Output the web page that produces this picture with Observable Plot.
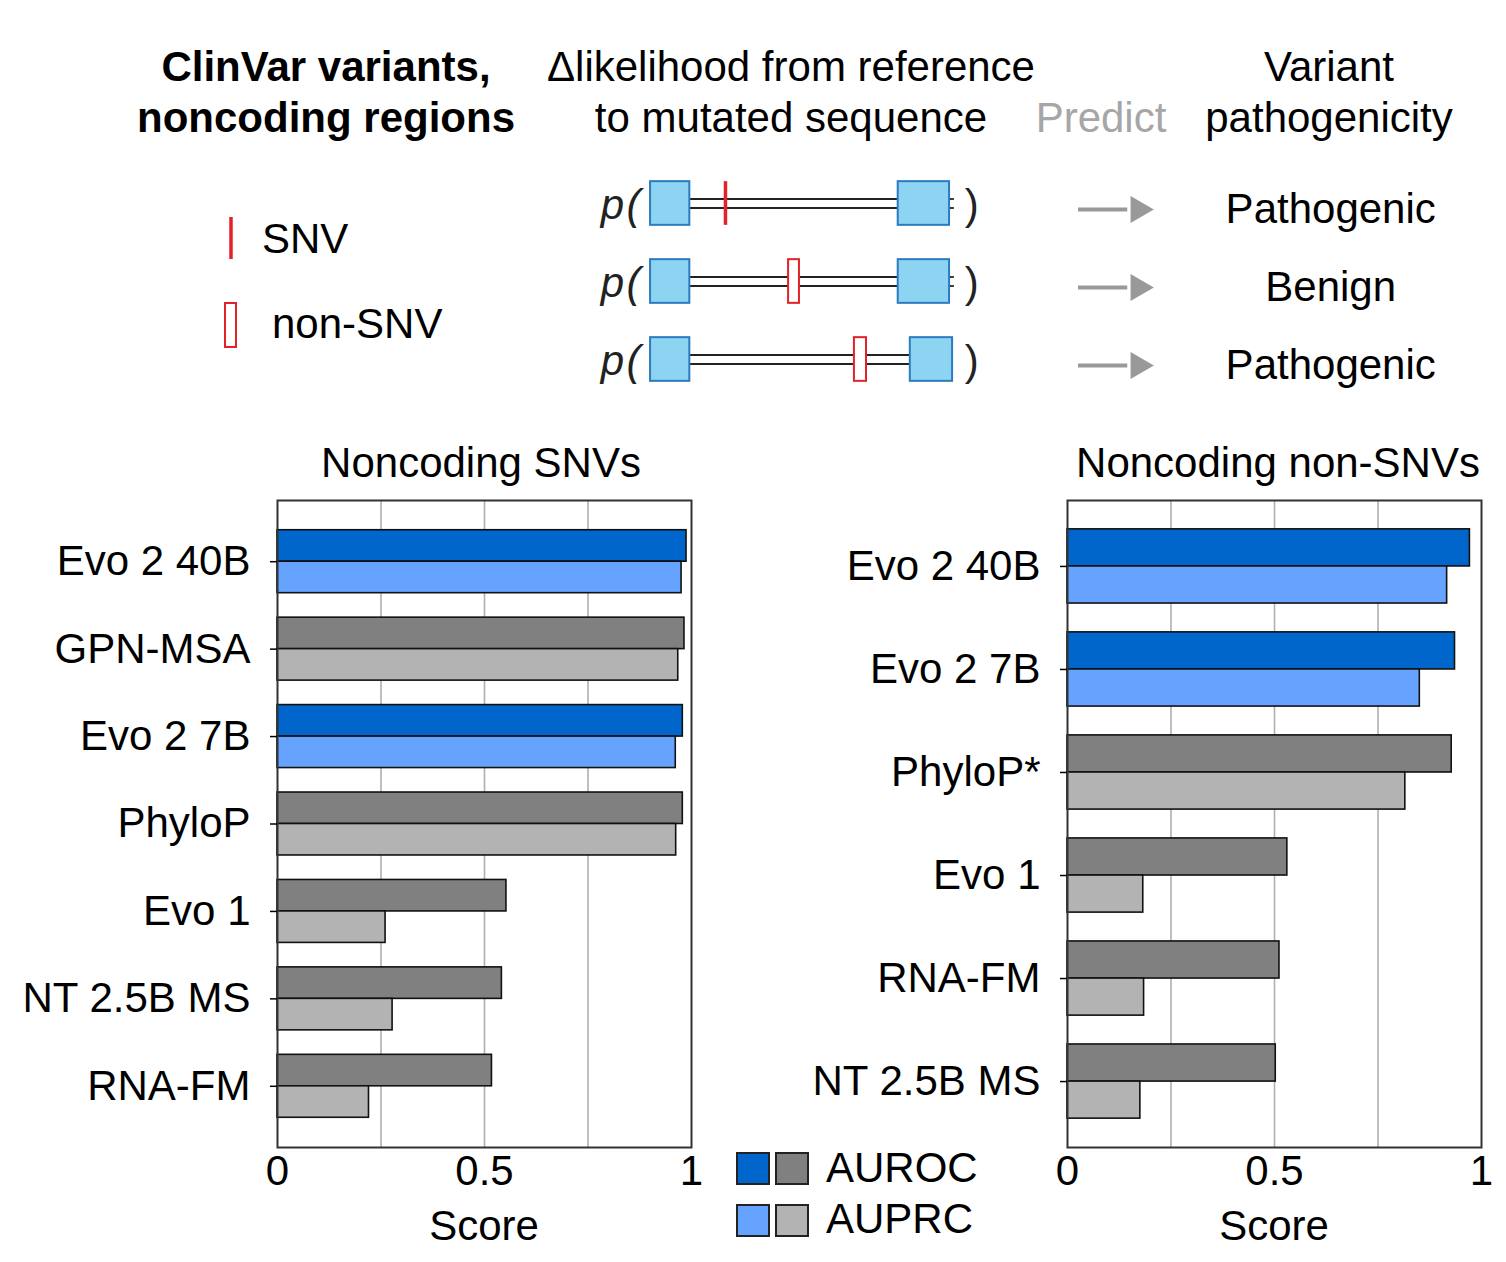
<!DOCTYPE html>
<html>
<head>
<meta charset="utf-8">
<script src="https://cdn.jsdelivr.net/npm/d3@7"></script>
<script src="https://cdn.jsdelivr.net/npm/@observablehq/plot@0.6"></script>
<style>
  html, body { margin: 0; padding: 0; background: #fff; }
  #root { position: relative; width: 1506px; height: 1262px; overflow: hidden;
          font-family: "Liberation Sans", Arial, sans-serif; color: #000; }
  .t { position: absolute; font-size: 42px; line-height: 51px; white-space: nowrap; }
  .sq { position: absolute; width: 30px; height: 29px; border: 2px solid #222; }
</style>
</head>
<body>
<div id="root"></div>
<script>
// ---------------- data ----------------
const models1 = ["Evo 2 40B", "GPN-MSA", "Evo 2 7B", "PhyloP", "Evo 1", "NT 2.5B MS", "RNA-FM"];
const auroc1  = [0.988, 0.983, 0.979, 0.979, 0.553, 0.542, 0.518];
const auprc1  = [0.976, 0.968, 0.962, 0.963, 0.261, 0.278, 0.221];

const models2 = ["Evo 2 40B", "Evo 2 7B", "PhyloP*", "Evo 1", "RNA-FM", "NT 2.5B MS"];
const auroc2  = [0.972, 0.936, 0.928, 0.531, 0.512, 0.503];
const auprc2  = [0.917, 0.851, 0.816, 0.183, 0.185, 0.176];

const evo2Models = ["Evo 2 40B", "Evo 2 7B"];
const metrics = ["AUROC", "AUPRC"];
const xTicks = [0, 0.5, 1];
const gridTicks = [0.25, 0.5, 0.75];

// schematic (sequence units)
const diagramRows = [0, 1, 2];
const outcomes = ["Pathogenic", "Benign", "Pathogenic"];
const leftExonStart = [0, 0, 0];
const leftExonEnd = [13, 13, 13];
const rightExonStart = [82, 82, 86];
const rightExonEnd = [99, 99, 100];
const variantKind = ["SNV", "non-SNV", "non-SNV"];
const variantStart = [24.8, 45.7, 67.5];
const variantEnd = [24.8, 49.3, 71.5];

// ---------------- helpers ----------------
const root = document.getElementById("root");
const FONT = "'Liberation Sans', Arial, sans-serif";

function text(str, cx, cy, opts = {}) {
  const d = document.createElement("div");
  d.className = "t";
  d.innerHTML = str;
  d.style.top = (cy - 25.5) + "px";
  d.style.left = cx + "px";
  if (opts.anchor !== "start") { d.style.transform = "translateX(-50%)"; d.style.textAlign = "center"; }
  if (opts.bold) d.style.fontWeight = "bold";
  if (opts.color) d.style.color = opts.color;
  root.appendChild(d);
  return d;
}
function place(node, left, top) {
  node.style.position = "absolute";
  node.style.left = left + "px";
  node.style.top = top + "px";
  root.appendChild(node);
}

const COLORS = {
  evo: {AUROC: "#0066CC", AUPRC: "#66A3FF"},
  other: {AUROC: "#808080", AUPRC: "#B3B3B3"}
};
const fillOf = d => COLORS[evo2Models.includes(d.model) ? "evo" : "other"][d.metric];

function barChart(models, auroc, auprc, marginLeft, paddingOuter) {
  const innerW = 414, innerH = 647, marginTop = 10, marginRight = 20, marginBottom = 60;
  const paddingInner = 0.28;
  const step = innerH / (models.length - paddingInner + 2 * paddingOuter);
  const bw = step * (1 - paddingInner);
  const rows = models.flatMap((m, i) => [
    {model: m, metric: "AUROC", value: auroc[i]},
    {model: m, metric: "AUPRC", value: auprc[i]}
  ]);
  return Plot.plot({
    width: marginLeft + innerW + marginRight,
    height: marginTop + innerH + marginBottom,
    marginLeft, marginTop, marginRight, marginBottom,
    style: {fontFamily: FONT, fontSize: "42px", background: "transparent", color: "#000", overflow: "visible"},
    x: {domain: [0, 1]},
    y: {domain: models, paddingInner, paddingOuter, round: false},
    marks: [
      Plot.gridX(gridTicks, {stroke: "#b0b0b0", strokeOpacity: 1, strokeWidth: 1.6}),
      Plot.barX(rows.filter(d => d.metric === "AUROC"), {
        x: "value", y: "model", fill: fillOf, stroke: "#111", strokeWidth: 1.6, insetBottom: bw / 2
      }),
      Plot.barX(rows.filter(d => d.metric === "AUPRC"), {
        x: "value", y: "model", fill: fillOf, stroke: "#111", strokeWidth: 1.6, insetTop: bw / 2
      }),
      Plot.frame({stroke: "#333", strokeWidth: 2}),
      Plot.axisY({tickSize: 7, tickPadding: 20, label: null, fontSize: 42, strokeWidth: 1.5}),
      Plot.axisX(xTicks, {tickSize: 0, tickPadding: 8, label: null, fontSize: 42, tickFormat: d => String(d)})
    ]
  });
}

// ---------------- header ----------------
text("ClinVar variants,<br>noncoding regions", 326, 66, {bold: true});
text("&Delta;likelihood from reference<br>to mutated sequence", 791, 66);
text("Predict", 1101, 117, {color: "#a6a6a6"});
text("Variant<br>pathogenicity", 1329, 66);

// legend for variant types (left)
{
  const ns = "http://www.w3.org/2000/svg";
  const svg = document.createElementNS(ns, "svg");
  svg.setAttribute("width", 20); svg.setAttribute("height", 140);
  const l = document.createElementNS(ns, "line");
  l.setAttribute("x1", 9); l.setAttribute("x2", 9); l.setAttribute("y1", 4); l.setAttribute("y2", 46);
  l.setAttribute("stroke", "#e32228"); l.setAttribute("stroke-width", 3.5);
  svg.appendChild(l);
  const r = document.createElementNS(ns, "rect");
  r.setAttribute("x", 3); r.setAttribute("y", 90); r.setAttribute("width", 11); r.setAttribute("height", 44);
  r.setAttribute("fill", "#fff"); r.setAttribute("stroke", "#e32228"); r.setAttribute("stroke-width", 2);
  svg.appendChild(r);
  place(svg, 222, 213);
  text("SNV", 262, 238, {anchor: "start"});
  text("non-SNV", 272, 323, {anchor: "start"});
}

// ---------------- schematic ----------------
{
  const rows = diagramRows.map(i => ({
    row: i, outcome: outcomes[i], kind: variantKind[i],
    l1: leftExonStart[i], l2: leftExonEnd[i], r1: rightExonStart[i], r2: rightExonEnd[i],
    v1: variantStart[i], v2: variantEnd[i]
  }));
  const h = 0.28;
  const diag = Plot.plot({
    width: 900, height: 240, marginTop: 4, marginBottom: 2, marginLeft: 0, marginRight: 0,
    style: {fontFamily: FONT, fontSize: "42px", background: "transparent", overflow: "visible"},
    x: {domain: [-23.2, 274.8], axis: null},
    y: {domain: [-0.5, 2.5], axis: null, reverse: true},
    marks: [
      Plot.ruleY(rows, {y: "row", x1: "l2", x2: "r1", stroke: "#222", strokeWidth: 1.8, dy: -4.5}),
      Plot.ruleY(rows, {y: "row", x1: "l2", x2: "r1", stroke: "#222", strokeWidth: 1.8, dy: 4.5}),
      Plot.ruleY(rows.filter(d => d.row < 2), {y: "row", x1: "r2", x2: d => d.r2 + 1.6, stroke: "#222", strokeWidth: 1.8, dy: -4.5}),
      Plot.ruleY(rows.filter(d => d.row < 2), {y: "row", x1: "r2", x2: d => d.r2 + 1.6, stroke: "#222", strokeWidth: 1.8, dy: 4.5}),
      Plot.rect(rows, {x1: "l1", x2: "l2", y1: d => d.row - h, y2: d => d.row + h, fill: "#8dd4f2", stroke: "#2c7bbf", strokeWidth: 2}),
      Plot.rect(rows, {x1: "r1", x2: "r2", y1: d => d.row - h, y2: d => d.row + h, fill: "#8dd4f2", stroke: "#2c7bbf", strokeWidth: 2}),
      Plot.ruleX(rows.filter(d => d.kind === "SNV"), {x: "v1", y1: d => d.row - h, y2: d => d.row + h, stroke: "#e32228", strokeWidth: 3.5}),
      Plot.rect(rows.filter(d => d.kind !== "SNV"), {x1: "v1", x2: "v2", y1: d => d.row - h, y2: d => d.row + h, fill: "#fff", stroke: "#e32228", strokeWidth: 2}),
      Plot.text(rows, {x: -8.8, y: "row", text: () => "p", textAnchor: "end", fontStyle: "italic", fontSize: 42, fill: "#222", dy: 2}),
      Plot.text(rows, {x: -3.3, y: "row", text: () => "(", textAnchor: "end", fontStyle: "italic", fontSize: 42, fill: "#222", dy: 2}),
      Plot.text(rows, {x: 104, y: "row", text: () => ")", textAnchor: "start", fontSize: 42, fill: "#222", dy: 2}),
      Plot.ruleY(rows, {y: "row", x1: 141.7, x2: 158, stroke: "#999", strokeWidth: 4, dy: 6}),
      Plot.dot(rows, {x: 161.5, y: "row", symbol: "triangle", rotate: 90, r: 10, fill: "#999", stroke: "none", dy: 6}),
      Plot.text(rows, {x: 225.2, y: "row", text: "outcome", fontSize: 42, fill: "#000", dy: 6})
    ]
  });
  place(diag, 580, 160);
}

// ---------------- charts ----------------
const c1 = barChart(models1, auroc1, auprc1, 277, 0.34);
place(c1, 0, 490);
const c2 = barChart(models2, auroc2, auprc2, 270, 0.28);
place(c2, 797, 490);

text("Noncoding SNVs", 481, 462);
text("Noncoding non-SNVs", 1278, 462);
text("Score", 484, 1225);
text("Score", 1274, 1225);

// metric legend
metrics.forEach((m, i) => {
  ["evo", "other"].forEach((g, j) => {
    const s = document.createElement("div");
    s.className = "sq";
    s.style.background = COLORS[g][m];
    s.style.left = (736 + j * 39) + "px";
    s.style.top = (1152 + i * 52) + "px";
    root.appendChild(s);
  });
  text(m, 826, 1167 + i * 51, {anchor: "start"});
});
</script>
</body>
</html>
